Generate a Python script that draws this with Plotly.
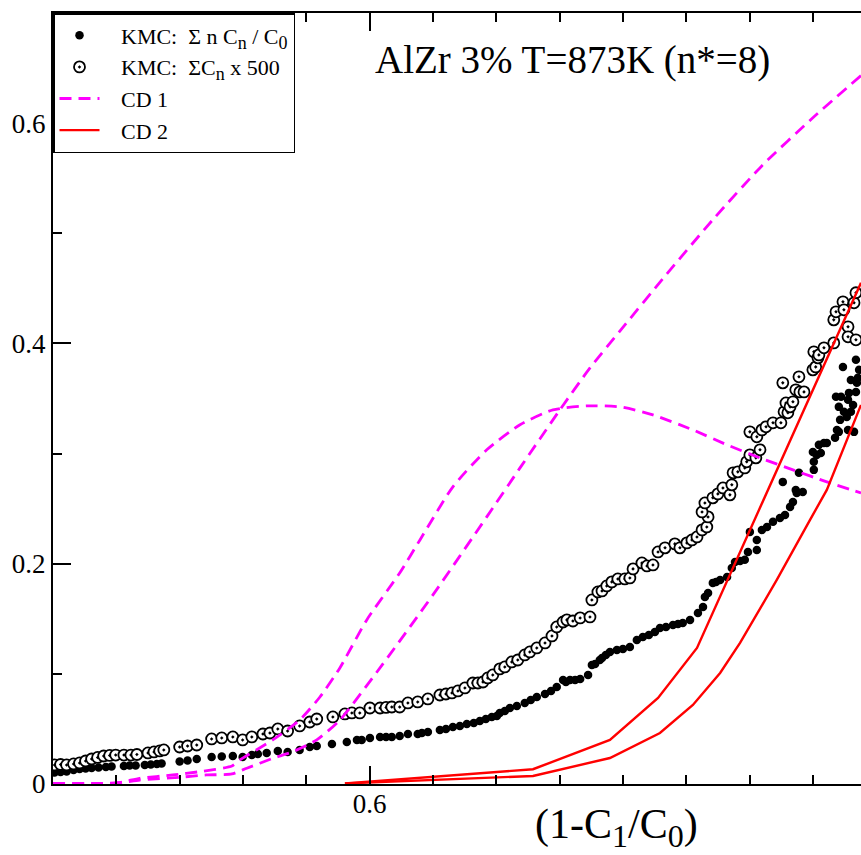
import plotly.graph_objects as go

# ---------------- data ----------------
# KMC: sum n Cn / C0  (filled dots)
kmc_n_x = [0.5005, 0.5024, 0.5043, 0.5065, 0.5084, 0.5103, 0.5122, 0.5144, 0.5167, 0.5185,
           0.5224, 0.5242, 0.5261, 0.5290, 0.5309, 0.5328, 0.5343, 0.5400, 0.5425, 0.5454,
           0.5501, 0.5533, 0.5568, 0.5599, 0.5628, 0.5647, 0.5675, 0.5710, 0.5741, 0.5779,
           0.5811, 0.5833, 0.5881, 0.5928, 0.5960, 0.5975, 0.6001, 0.6033, 0.6052, 0.6070,
           0.6095, 0.6121, 0.6152, 0.6165, 0.6184, 0.6222, 0.6241, 0.6263, 0.6285, 0.6307,
           0.6329, 0.6348, 0.6367, 0.6386, 0.6402, 0.6411, 0.6427, 0.6443, 0.6465, 0.6490,
           0.6509, 0.6528, 0.6554, 0.6573, 0.6591, 0.6611, 0.6620, 0.6633, 0.6649, 0.6665,
           0.6690, 0.6702, 0.6712, 0.6727, 0.6734, 0.6746, 0.6759, 0.6781, 0.6800, 0.6822,
           0.6844, 0.6863, 0.6882, 0.6901, 0.6917, 0.6936, 0.6958, 0.6974, 0.6989, 0.7012,
           0.7037, 0.7053, 0.7059, 0.7069, 0.7084, 0.7094, 0.7107, 0.7129, 0.7144, 0.7154,
           0.7170, 0.7185, 0.7195, 0.7201, 0.7223, 0.7223, 0.7239, 0.7255, 0.7274, 0.7296,
           0.7305, 0.7312, 0.7328, 0.7337, 0.7346, 0.7349, 0.7356, 0.7368, 0.7400, 0.7403,
           0.7403, 0.7412, 0.7419, 0.7425, 0.7435, 0.7444, 0.7470, 0.7473, 0.7476, 0.7482,
           0.7482, 0.7486, 0.7489, 0.7495, 0.7498, 0.7507, 0.7511, 0.7511, 0.7514, 0.7520,
           0.7520, 0.7527, 0.7530, 0.7536, 0.7536, 0.7539, 0.7542, 0.7546]
kmc_n_y = [0.0104, 0.0109, 0.0114, 0.0127, 0.0136, 0.0141, 0.0145, 0.0150, 0.0154, 0.0159,
           0.0163, 0.0168, 0.0168, 0.0173, 0.0177, 0.0182, 0.0186, 0.0204, 0.0213, 0.0227,
           0.0245, 0.0250, 0.0254, 0.0245, 0.0263, 0.0272, 0.0282, 0.0300, 0.0291, 0.0309,
           0.0336, 0.0345, 0.0363, 0.0381, 0.0400, 0.0400, 0.0418, 0.0427, 0.0427, 0.0427,
           0.0436, 0.0454, 0.0454, 0.0463, 0.0472, 0.0490, 0.0500, 0.0518, 0.0527, 0.0545,
           0.0554, 0.0572, 0.0590, 0.0609, 0.0618, 0.0645, 0.0663, 0.0690, 0.0708, 0.0736,
           0.0763, 0.0790, 0.0817, 0.0845, 0.0881, 0.0945, 0.0926, 0.0945, 0.0945, 0.0954,
           0.0990, 0.1081, 0.1090, 0.1126, 0.1144, 0.1172, 0.1199, 0.1217, 0.1226, 0.1244,
           0.1308, 0.1335, 0.1353, 0.1381, 0.1417, 0.1426, 0.1444, 0.1453, 0.1462, 0.1490,
           0.1553, 0.1608, 0.1698, 0.1735, 0.1826, 0.1835, 0.1853, 0.1880, 0.1962, 0.2016,
           0.2025, 0.2035, 0.2107, 0.2289, 0.2125, 0.2216, 0.2307, 0.2334, 0.2380, 0.2416,
           0.2743, 0.2443, 0.2516, 0.2561, 0.2670, 0.2643, 0.2825, 0.2652, 0.3015, 0.2852,
           0.2925, 0.2988, 0.3079, 0.3006, 0.3097, 0.3097, 0.3143, 0.3515, 0.3215, 0.3197,
           0.3424, 0.3306, 0.3515, 0.3787, 0.3379, 0.3333, 0.3215, 0.3488, 0.3551, 0.3379,
           0.3669, 0.3442, 0.3197, 0.3560, 0.3851, 0.3642, 0.3688, 0.3760]

# KMC: sum Cn x 500  (open circles)
kmc_c_x = [0.5005, 0.5024, 0.5043, 0.5065, 0.5084, 0.5103, 0.5122, 0.5141, 0.5160, 0.5179,
           0.5198, 0.5224, 0.5246, 0.5265, 0.5300, 0.5319, 0.5337, 0.5350, 0.5400, 0.5425,
           0.5454, 0.5501, 0.5533, 0.5568, 0.5599, 0.5628, 0.5663, 0.5685, 0.5710, 0.5741,
           0.5779, 0.5811, 0.5833, 0.5884, 0.5922, 0.5944, 0.5969, 0.6001, 0.6033, 0.6052,
           0.6070, 0.6095, 0.6121, 0.6152, 0.6184, 0.6222, 0.6241, 0.6260, 0.6279, 0.6301,
           0.6326, 0.6342, 0.6358, 0.6373, 0.6389, 0.6411, 0.6427, 0.6449, 0.6468, 0.6490,
           0.6506, 0.6528, 0.6554, 0.6576, 0.6591, 0.6611, 0.6623, 0.6642, 0.6665, 0.6696,
           0.6702, 0.6721, 0.6734, 0.6749, 0.6765, 0.6784, 0.6806, 0.6822, 0.6832, 0.6860,
           0.6876, 0.6895, 0.6911, 0.6933, 0.6964, 0.6980, 0.7002, 0.7018, 0.7034, 0.7050,
           0.7065, 0.7069, 0.7050, 0.7059, 0.7084, 0.7100, 0.7116, 0.7138, 0.7144, 0.7148,
           0.7163, 0.7185, 0.7191, 0.7201, 0.7220, 0.7201, 0.7223, 0.7233, 0.7239, 0.7252,
           0.7274, 0.7299, 0.7309, 0.7315, 0.7321, 0.7328, 0.7337, 0.7346, 0.7359, 0.7305,
           0.7356, 0.7372, 0.7400, 0.7403, 0.7409, 0.7416, 0.7419, 0.7435, 0.7466, 0.7466,
           0.7473, 0.7495, 0.7498, 0.7511, 0.7511, 0.7530, 0.7536, 0.7536]
kmc_c_y = [0.0173, 0.0177, 0.0173, 0.0182, 0.0191, 0.0209, 0.0227, 0.0241, 0.0254, 0.0259,
           0.0263, 0.0263, 0.0263, 0.0268, 0.0282, 0.0291, 0.0300, 0.0309, 0.0336, 0.0345,
           0.0354, 0.0409, 0.0418, 0.0427, 0.0400, 0.0427, 0.0454, 0.0463, 0.0500, 0.0481,
           0.0527, 0.0563, 0.0590, 0.0609, 0.0636, 0.0645, 0.0645, 0.0690, 0.0690, 0.0695,
           0.0699, 0.0699, 0.0736, 0.0745, 0.0772, 0.0808, 0.0817, 0.0827, 0.0845, 0.0872,
           0.0917, 0.0917, 0.0926, 0.0963, 0.0990, 0.1045, 0.1063, 0.1108, 0.1126, 0.1172,
           0.1199, 0.1235, 0.1281, 0.1344, 0.1426, 0.1471, 0.1490, 0.1480, 0.1508, 0.1517,
           0.1671, 0.1744, 0.1753, 0.1798, 0.1835, 0.1862, 0.1862, 0.1871, 0.1953, 0.2007,
           0.1980, 0.1989, 0.2107, 0.2144, 0.2180, 0.2144, 0.2189, 0.2216, 0.2243, 0.2307,
           0.2334, 0.2425, 0.2470, 0.2552, 0.2598, 0.2634, 0.2688, 0.2625, 0.2716, 0.2825,
           0.2834, 0.2870, 0.2925, 0.2988, 0.2961, 0.3197, 0.3152, 0.3034, 0.3215, 0.3243,
           0.3279, 0.3279, 0.3379, 0.3460, 0.3370, 0.3424, 0.3470, 0.3579, 0.3560, 0.3642,
           0.3697, 0.3560, 0.3760, 0.3924, 0.3787, 0.3869, 0.3896, 0.3960, 0.4005, 0.4214,
           0.4287, 0.4378, 0.4305, 0.4151, 0.4060, 0.4369, 0.4033, 0.4460]

# CD 1 (two curves)
cd1_a_x = [0.5000, 0.5201, 0.5274, 0.5378, 0.5463, 0.5565, 0.5590, 0.5694, 0.5779, 0.5843,
           0.5906, 0.5991, 0.6095, 0.6159, 0.6263, 0.6370, 0.6475, 0.6579, 0.6686, 0.6791,
           0.6895, 0.7021, 0.7129, 0.7233, 0.7337, 0.7444, 0.7552]
cd1_a_y = [0.0005, 0.0009, 0.0052, 0.0082, 0.0112, 0.0163, 0.0218, 0.0400, 0.0581, 0.0790,
           0.1054, 0.1490, 0.1916, 0.2216, 0.2698, 0.3034, 0.3261, 0.3397, 0.3433, 0.3424,
           0.3351, 0.3215, 0.3079, 0.2961, 0.2852, 0.2743, 0.2643]
cd1_b_x = [0.5000, 0.5201, 0.5274, 0.5400, 0.5485, 0.5565, 0.5612, 0.5694, 0.5757, 0.5833,
           0.5906, 0.6042, 0.6200, 0.6370, 0.6475, 0.6601, 0.6696, 0.6791, 0.6926,
           0.7084, 0.7242, 0.7400, 0.7552]
cd1_b_y = [0.0005, 0.0009, 0.0036, 0.0061, 0.0082, 0.0091, 0.0143, 0.0233, 0.0293, 0.0400,
           0.0581, 0.1090, 0.1717, 0.2425, 0.2870, 0.3397, 0.3778, 0.4114, 0.4587,
           0.5123, 0.5622, 0.6049, 0.6431]

# CD 2 (two curves)
cd2_a_x = [0.5922, 0.6516, 0.6759, 0.6911, 0.7034, 0.7296, 0.7552]
cd2_a_y = [0.0005, 0.0134, 0.0400, 0.0781, 0.1235, 0.2916, 0.4550]
cd2_b_x = [0.5922, 0.6516, 0.6759, 0.6917, 0.7021, 0.7107, 0.7170, 0.7286, 0.7391, 0.7444, 0.7552]
cd2_b_y = [0.0005, 0.0073, 0.0236, 0.0463, 0.0718, 0.1008, 0.1281, 0.1853, 0.2398, 0.2670, 0.3442]

x_range = [0.5, 0.7552]
y_range = [0.0, 0.7]

title_text = "AlZr 3% T=873K (n*=8)"
SUBX = '<sub><span style="font-size:32px">%s</span></sub>'
x_title = "(1-C" + SUBX % "1" + "/C" + SUBX % "0" + ")"
SUBL = '<sub><span style="font-size:18px">%s</span></sub>'
NB = "\u00a0"
legend_names = [NB * 3 + "KMC:" + NB * 2 + "\u03a3 n C" + SUBL % "n" + " / C" + SUBL % "0",
                NB * 3 + "KMC:" + NB * 2 + "\u03a3C" + SUBL % "n" + " x 500",
                NB * 3 + "CD 1",
                NB * 3 + "CD 2"]

# ---------------- figure ----------------
FONT = "Liberation Serif"
MAG = "#ff00ff"
RED = "#ff0000"

fig = go.Figure()

fig.add_trace(go.Scatter(
    x=kmc_n_x, y=kmc_n_y, mode="markers", name=legend_names[0],
    marker=dict(symbol="circle", size=8.5, color="black", line=dict(width=0))))

fig.add_trace(go.Scatter(
    x=kmc_c_x, y=kmc_c_y, mode="markers", name=legend_names[1],
    marker=dict(symbol="circle-dot", size=11, color="white",
                line=dict(width=1.8, color="black"))))

fig.add_trace(go.Scatter(
    x=cd1_a_x, y=cd1_a_y, mode="lines", name=legend_names[2], legendgroup="cd1",
    line=dict(color=MAG, width=2.8, dash="12px,7px", shape="spline", smoothing=0.6)))
fig.add_trace(go.Scatter(
    x=cd1_b_x, y=cd1_b_y, mode="lines", name=legend_names[2], legendgroup="cd1",
    showlegend=False,
    line=dict(color=MAG, width=2.8, dash="12px,7px", shape="spline", smoothing=0.6)))

fig.add_trace(go.Scatter(
    x=cd2_a_x, y=cd2_a_y, mode="lines", name=legend_names[3], legendgroup="cd2",
    line=dict(color=RED, width=2.4)))
fig.add_trace(go.Scatter(
    x=cd2_b_x, y=cd2_b_y, mode="lines", name=legend_names[3], legendgroup="cd2",
    showlegend=False, line=dict(color=RED, width=2.4)))

fig.add_annotation(
    text=title_text, xref="paper", yref="paper", x=0.396, y=0.939,
    xanchor="left", yanchor="middle", showarrow=False,
    font=dict(family=FONT, size=39, color="black"))

fig.add_annotation(
    text=x_title, xref="paper", yref="paper", x=0.697, y=-0.056,
    xanchor="center", yanchor="middle", showarrow=False,
    font=dict(family=FONT, size=42, color="black"))

fig.update_layout(
    width=861, height=855,
    margin=dict(l=53, r=0, t=13, b=71, pad=0),
    paper_bgcolor="white", plot_bgcolor="white",
    font=dict(family=FONT, color="black"),
    showlegend=True,
    legend=dict(x=0, y=1, xanchor="left", yanchor="top",
                bgcolor="white", bordercolor="black", borderwidth=1.5,
                font=dict(family=FONT, size=22, color="black"),
                itemwidth=40, tracegroupgap=0),
    xaxis=dict(range=x_range, showgrid=False, zeroline=False,
               showline=True, linecolor="black", linewidth=2, mirror="ticks",
               ticks="inside", ticklen=18, tickwidth=1.5, tickcolor="black",
               tick0=0, dtick=0.2, tickformat=".1f", ticklabelstandoff=-5,
               tickfont=dict(family=FONT, size=27, color="black"),
               minor=dict(dtick=0.02, tick0=0, ticks="inside", ticklen=9,
                          tickwidth=1.5, tickcolor="black", showgrid=False)),
    yaxis=dict(range=y_range, showgrid=False, zeroline=False,
               showline=True, linecolor="black", linewidth=2, mirror=False,
               ticks="inside", ticklen=18, tickwidth=1.5, tickcolor="black",
               tick0=0, dtick=0.2,
               tickfont=dict(family=FONT, size=27, color="black"),
               minor=dict(dtick=0.1, tick0=0, ticks="inside", ticklen=9,
                          tickwidth=1.5, tickcolor="black", showgrid=False)),
)

fig.write_html("out.html")
